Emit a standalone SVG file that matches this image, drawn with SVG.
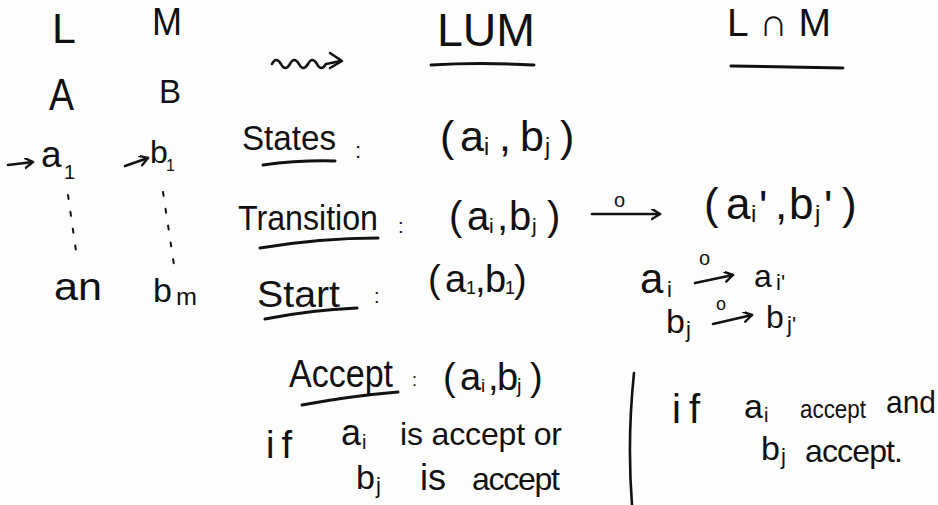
<svg xmlns="http://www.w3.org/2000/svg" width="938" height="505" viewBox="0 0 938 505">
<defs>
<style>
text{font-family:"Liberation Sans","Open Sans",sans-serif;fill:#111}
.ul{stroke:#111;stroke-width:3;stroke-linecap:round;fill:none}
.ln{stroke:#111;stroke-width:2.6;fill:none;stroke-linecap:round;stroke-linejoin:round}
.dot{stroke:#111;stroke-width:2;fill:none;stroke-linecap:round;stroke-dasharray:4 13}
</style>
<marker id="ah" markerWidth="12" markerHeight="12" refX="9" refY="5" orient="auto" markerUnits="userSpaceOnUse">
<path d="M1,0 L9,5 L1,10" fill="none" stroke="#111" stroke-width="2.4" stroke-linecap="round" stroke-linejoin="round"/>
</marker>
</defs>
<rect width="938" height="505" fill="#fdfdfd"/>

<g id="left-columns">
<text x="52" y="43" font-size="43">L</text>
<text x="152" y="35" font-size="38" textLength="30" lengthAdjust="spacingAndGlyphs">M</text>
<text x="49" y="110" font-size="44" textLength="25" lengthAdjust="spacingAndGlyphs">A</text>
<text x="159" y="103" font-size="33">B</text>
<path class="ln" d="M8,165 L33,162" marker-end="url(#ah)"/>
<text x="41" y="167" font-size="37">a</text>
<text x="64" y="179" font-size="20">1</text>
<path class="ln" d="M125,166 L148,158" marker-end="url(#ah)"/>
<text x="150" y="163" font-size="32">b</text>
<text x="166" y="171" font-size="16">1</text>
<path class="dot" d="M68,195 L77,258"/>
<path class="dot" d="M163,192 L174,265"/>
<text x="54" y="300" font-size="38" textLength="48" lengthAdjust="spacingAndGlyphs">an</text>
<text x="153" y="302" font-size="34">b</text>
<text x="176" y="305" font-size="24" textLength="21" lengthAdjust="spacingAndGlyphs">m</text>
</g>

<g id="squiggle">
<path class="ln" d="M272,64 q4,-8 9,0 q4,8 9,0 q4,-8 9,0 q4,8 9,0 q4,-8 9,0 q4,8 9,0 L341,61"/>
<path class="ln" d="M330,53 L342,61 L330,68"/>
</g>

<g id="headers">
<text x="437" y="46" font-size="46" textLength="98" lengthAdjust="spacingAndGlyphs">LUM</text>
<path class="ul" d="M431,65 Q480,62 534,65"/>
<text x="727" y="36" font-size="39" textLength="104" lengthAdjust="spacing">L∩M</text>
<path class="ul" d="M731,66 L843,68"/>
</g>

<g id="states">
<text x="242" y="150" font-size="35" textLength="94" lengthAdjust="spacingAndGlyphs">States</text>
<path class="ul" d="M263,165 Q300,160 335,161"/>
<text x="355" y="158" font-size="22">:</text>
<text y="151" font-size="43"><tspan x="440">(</tspan><tspan x="460">a</tspan><tspan x="484" dy="4" font-size="23">i</tspan><tspan x="499" dy="-4">,</tspan><tspan x="520">b</tspan><tspan x="545" dy="4" font-size="23">j</tspan><tspan x="560" dy="-4">)</tspan></text>
</g>

<g id="transition">
<text x="238" y="230" font-size="35" textLength="140" lengthAdjust="spacingAndGlyphs">Transition</text>
<path class="ul" d="M260,248 Q320,238 378,238"/>
<text x="398" y="233" font-size="20">:</text>
<text y="230" font-size="40"><tspan x="449">(</tspan><tspan x="467">a</tspan><tspan x="489" dy="3" font-size="21">i</tspan><tspan x="497" dy="-3">,</tspan><tspan x="509">b</tspan><tspan x="532" dy="3" font-size="21">j</tspan><tspan x="547" dy="-3">)</tspan></text>
<path class="ln" d="M592,214 L660,214" marker-end="url(#ah)"/>
<text x="614" y="207" font-size="20">o</text>
<text y="219" font-size="44"><tspan x="704">(</tspan><tspan x="726">a</tspan><tspan x="751" dy="3" font-size="24">i</tspan><tspan x="759">'</tspan><tspan x="775" dy="-3">,</tspan><tspan x="789">b</tspan><tspan x="815" dy="3" font-size="24">j</tspan><tspan x="824">'</tspan><tspan x="842" dy="-3">)</tspan></text>
</g>

<g id="start">
<text x="257" y="307" font-size="36" textLength="83" lengthAdjust="spacingAndGlyphs">Start</text>
<path class="ul" d="M265,319 Q310,310 357,308"/>
<text x="374" y="303" font-size="20">:</text>
<text y="292" font-size="38"><tspan x="428">(</tspan><tspan x="445">a</tspan><tspan x="466" dy="2" font-size="18">1</tspan><tspan x="475" dy="-2">,</tspan><tspan x="485">b</tspan><tspan x="505" dy="2" font-size="18">1</tspan><tspan x="514" dy="-2">)</tspan></text>
</g>

<g id="component-steps">
<text x="640" y="293" font-size="42">a</text>
<text x="667" y="297" font-size="22">i</text>
<path class="ln" d="M695,283 L733,275" marker-end="url(#ah)"/>
<text x="699" y="265" font-size="20">o</text>
<text x="754" y="287" font-size="32">a</text>
<text x="776" y="290" font-size="22">i'</text>
<text x="666" y="333" font-size="34">b</text>
<text x="686" y="337" font-size="22">j</text>
<path class="ln" d="M713,324 L752,315" marker-end="url(#ah)"/>
<text x="716" y="310" font-size="18">o</text>
<text x="766" y="328" font-size="32">b</text>
<text x="787" y="332" font-size="22">j'</text>
</g>

<g id="accept">
<text x="289" y="387" font-size="38" textLength="104" lengthAdjust="spacingAndGlyphs">Accept</text>
<path class="ul" d="M302,405 Q350,396 398,392"/>
<text x="412" y="386" font-size="18">:</text>
<text y="390" font-size="38"><tspan x="443">(</tspan><tspan x="460">a</tspan><tspan x="481" dy="2" font-size="19">i</tspan><tspan x="488" dy="-2">,</tspan><tspan x="497">b</tspan><tspan x="517" dy="3" font-size="20">j</tspan><tspan x="530" dy="-3">)</tspan></text>
<text x="266" y="458" font-size="38" textLength="26" lengthAdjust="spacing">if</text>
<text x="341" y="445" font-size="36">a</text>
<text x="362" y="449" font-size="20">i</text>
<text x="400" y="445" font-size="32" textLength="162" lengthAdjust="spacing">is accept or</text>
<text x="356" y="489" font-size="34">b</text>
<text x="376" y="493" font-size="22">j</text>
<text x="420" y="490" font-size="36">is</text>
<text x="472" y="490" font-size="32" textLength="88" lengthAdjust="spacing">accept</text>
</g>

<g id="divider">
<path class="ln" d="M634,373 Q627,440 632,505"/>
</g>

<g id="intersection-accept">
<text x="672" y="423" font-size="40" textLength="28" lengthAdjust="spacing">if</text>
<text x="744" y="418" font-size="34">a</text>
<text x="764" y="422" font-size="20">i</text>
<text x="800" y="418" font-size="26" textLength="66" lengthAdjust="spacingAndGlyphs">accept</text>
<text x="886" y="413" font-size="32" textLength="50" lengthAdjust="spacingAndGlyphs">and</text>
<text x="761" y="460" font-size="34">b</text>
<text x="781" y="464" font-size="22">j</text>
<text x="805" y="462" font-size="32" textLength="98" lengthAdjust="spacing">accept.</text>
</g>
</svg>
